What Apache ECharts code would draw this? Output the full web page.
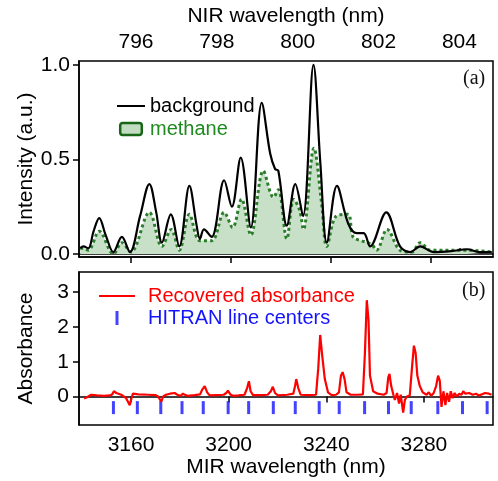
<!DOCTYPE html>
<html lang="en">
<head>
    <meta charset="UTF-8">
    <title>NIR / MIR spectra</title>
    <script src="https://cdn.jsdelivr.net/npm/echarts@6/dist/echarts.min.js"></script>
    <style>
        html, body { margin: 0; padding: 0; background: #fff; }
        #chart { width: 498px; height: 481px; }
    </style>
</head>
<body>
    <div id="chart"></div>
    <script>
        // panel (a): NIR spectra
        const bgNm = [794.62, 794.70, 794.82, 794.95, 795.09, 795.25, 795.44, 795.65, 795.85, 796.10, 796.33, 796.50, 796.64,
            796.86, 797.07, 797.32, 797.50, 797.58, 797.68, 797.87, 798.18, 798.37, 798.59, 798.84, 799.11, 799.32, 799.44,
            799.52, 799.73, 799.94, 800.13, 800.39, 800.56, 800.72, 800.97, 801.25, 801.46, 801.63, 801.79, 802.19, 802.53,
            802.78, 803.03, 803.36, 803.80, 804.19, 804.50, 804.80];
        const bgVal = [0.03, 0.04, 0.03, 0.12, 0.19, 0.10, 0.01, 0.09, 0.01, 0.20, 0.37, 0.22, 0.06,
            0.21, 0.04, 0.36, 0.15, 0.08, 0.13, 0.09, 0.39, 0.25, 0.51, 0.14, 0.80, 0.53, 0.45,
            0.44, 0.15, 0.37, 0.20, 1.00, 0.48, 0.06, 0.36, 0.16, 0.11, 0.11, 0.04, 0.22, 0.04,
            0.01, 0.04, 0.01, 0.015, 0.025, 0.01, 0.01];

        const ch4Nm = [794.62, 794.70, 794.82, 795.09, 795.44, 795.65, 795.87, 796.33, 796.64, 796.87, 797.07, 797.32, 797.58,
            797.87, 798.18, 798.39, 798.61, 798.84, 799.15, 799.40, 799.52, 799.73, 799.90, 800.05, 800.14, 800.40, 800.59,
            800.72, 800.95, 801.24, 801.37, 801.58, 801.83, 801.95, 802.21, 802.53, 802.82, 803.03, 803.28, 804.19, 804.80];
        const ch4Val = [0.03, 0.03, 0.02, 0.12, 0.00, 0.06, 0.01, 0.22, 0.04, 0.13, 0.02, 0.21, 0.07,
            0.07, 0.22, 0.14, 0.29, 0.10, 0.44, 0.30, 0.34, 0.08, 0.29, 0.23, 0.13, 0.56, 0.27,
            0.04, 0.20, 0.21, 0.09, 0.07, 0.05, 0.02, 0.13, 0.02, 0.01, 0.06, 0.02, 0.02, 0.01];

        // panel (b): MIR absorbance
        const absNm = [3140.8, 3142.0, 3143.7, 3146.0, 3149.0, 3151.3, 3152.3, 3153.0, 3154.0, 3156.0, 3158.0, 3159.5, 3160.2,
            3160.8, 3163.0, 3167.0, 3170.0, 3171.1, 3172.4, 3173.2, 3174.3, 3176.0, 3177.9, 3179.2, 3180.3, 3181.3, 3182.3,
            3183.3, 3186.0, 3188.3, 3189.2, 3190.2, 3191.2, 3192.2, 3195.0, 3198.0, 3199.0, 3199.7, 3200.7, 3201.8, 3204.0,
            3206.5, 3207.6, 3208.3, 3209.0, 3210.0, 3213.0, 3216.0, 3217.3, 3218.1, 3219.0, 3220.2, 3224.0, 3226.5, 3227.2,
            3227.7, 3228.5, 3229.5, 3233.0, 3235.8, 3236.7, 3237.5, 3238.3, 3239.4, 3240.7, 3242.2, 3244.0, 3245.2, 3246.0,
            3246.7, 3247.5, 3248.3, 3250.0, 3253.0, 3255.0, 3255.8, 3256.6, 3257.3, 3257.9, 3259.2, 3261.0, 3263.5, 3264.7,
            3265.4, 3265.9, 3266.6, 3267.5, 3268.1, 3269.0, 3269.8, 3270.5, 3271.5, 3272.2, 3273.0, 3274.2, 3275.2, 3275.9,
            3276.6, 3277.3, 3278.3, 3279.5, 3281.1, 3282.0, 3283.0, 3284.0, 3285.0, 3285.8, 3286.5, 3287.2, 3288.0, 3288.8,
            3289.5, 3290.3, 3291.0, 3291.8, 3292.6, 3293.5, 3294.5, 3295.4, 3296.1, 3297.0, 3298.5, 3300.0, 3301.3, 3302.5,
            3303.7, 3305.0, 3305.7, 3306.6, 3307.7];
        const absVal = [-0.06, -0.02, 0.05, 0.03, 0.02, 0.03, 0.06, 0.15, 0.10, 0.05, -0.05, -0.25, -0.05,
            0.08, 0.06, 0.05, 0.04, 0.00, -0.15, 0.00, 0.05, 0.08, 0.10, 0.04, 0.02, 0.08, 0.04,
            0.02, 0.04, 0.06, 0.20, 0.30, 0.12, 0.03, 0.04, 0.05, 0.10, 0.17, 0.06, 0.02, 0.03,
            0.05, 0.25, 0.44, 0.15, 0.04, 0.04, 0.05, 0.15, 0.28, 0.10, 0.03, 0.05, 0.08, 0.30,
            0.50, 0.25, 0.05, 0.04, 0.05, 0.80, 1.77, 1.20, 0.50, 0.12, 0.04, 0.05, 0.12, 0.60,
            0.70, 0.50, 0.12, 0.05, 0.05, 0.06, 1.20, 2.77, 2.20, 0.60, 0.15, 0.08, 0.05, 0.10,
            0.55, 0.65, 0.30, 0.05, -0.10, 0.10, -0.20, 0.05, -0.46, -0.10, 0.00, 0.03, 0.90, 1.46,
            1.25, 0.60, 0.30, 0.12, 0.05, 0.12, 0.02, 0.10, 0.30, 0.60, 0.45, -0.30, 0.15, -0.25,
            0.10, -0.15, 0.15, -0.05, 0.10, 0.00, 0.08, 0.05, 0.15, 0.08, 0.10, 0.05, 0.08, 0.03,
            0.06, 0.10, 0.15, 0.08, 0.05];

        const hitranNm = [3152.8, 3162.6, 3172.2, 3180.9, 3189.6, 3199.8, 3208.2, 3218.3, 3227.3, 3237.1, 3245.3,
            3255.7, 3265.5, 3274.8, 3285.7, 3295.8, 3305.9];
        const hitranMark = -0.32;

        const nirTicks = [796, 798, 800, 802, 804];
        const mirTicks = [3160, 3200, 3240, 3280];
        const intensityTicks = [0, 0.5, 1];
        const absTicks = [0, 1, 2, 3];

        const pairs = (xs, ys) => xs.map((x, i) => [x, ys[i]]);

        const font = 'Liberation Sans';
        const axisLine = { show: true, lineStyle: { color: '#000', width: 1.5 } };
        const tick = vals => ({ customValues: vals, length: 6, lineStyle: { color: '#000', width: 1.5 } });
        const nameStyle = { fontSize: 21, color: '#000', fontFamily: font };

        let myChart = echarts.init(document.getElementById('chart'));

        let option = {
            animation: false,
            backgroundColor: '#fff',
            textStyle: { fontFamily: font },
            grid: [
                { left: 79, right: 5, top: 61, height: 196, show: true, borderColor: '#000', borderWidth: 1.5 },
                { left: 79, right: 5, top: 272, height: 153, show: true, borderColor: '#000', borderWidth: 1.5 }
            ],
            xAxis: [{
                gridIndex: 0, type: 'value', position: 'top', min: 794.59, max: 804.83,
                name: 'NIR wavelength (nm)', nameLocation: 'middle', nameGap: 34, nameTextStyle: nameStyle,
                nameMoveOverlap: false,
                axisLine: axisLine,
                axisTick: tick(nirTicks),
                axisLabel: { customValues: nirTicks, fontSize: 21, color: '#000', margin: 8, fontFamily: font, formatter: v => String(v) },
                splitLine: { show: false }
            }, {
                // MIR ticks at the bottom of panel (a)
                gridIndex: 0, type: 'value', position: 'bottom', min: 3139.2, max: 3305,
                axisLine: axisLine,
                axisTick: tick(mirTicks),
                axisLabel: { show: false },
                splitLine: { show: false }
            }, {
                gridIndex: 1, type: 'value', position: 'bottom', min: 3138.7, max: 3308.3,
                name: 'MIR wavelength (nm)', nameLocation: 'middle', nameGap: 32, nameTextStyle: nameStyle,
                nameMoveOverlap: false,
                axisLine: axisLine,
                axisTick: tick(mirTicks),
                axisLabel: { customValues: mirTicks, fontSize: 21, color: '#000', margin: 10, fontFamily: font, formatter: v => String(v) },
                splitLine: { show: false }
            }],
            yAxis: [{
                gridIndex: 0, type: 'value', min: -0.016, max: 1.021,
                name: 'Intensity (a.u.)', nameLocation: 'middle', nameGap: 42, nameTextStyle: nameStyle,
                nameMoveOverlap: false,
                axisLine: axisLine,
                axisTick: tick(intensityTicks),
                axisLabel: {
                    customValues: intensityTicks, fontSize: 21, color: '#000', margin: 9, fontFamily: font,
                    formatter: v => v.toFixed(1)
                },
                splitLine: { show: false }
            }, {
                gridIndex: 1, type: 'value', min: -0.82, max: 3.58,
                name: 'Absorbance', nameLocation: 'middle', nameGap: 42, nameTextStyle: nameStyle,
                nameMoveOverlap: false,
                axisLine: axisLine,
                axisTick: tick(absTicks),
                axisLabel: { customValues: absTicks, fontSize: 21, color: '#000', margin: 10, fontFamily: font },
                splitLine: { show: false }
            }],
            legend: [{
                left: 112, top: 91, orient: 'vertical', itemWidth: 28, itemHeight: 12, itemGap: 3,
                textStyle: { fontSize: 20, fontFamily: font },
                data: [
                    {
                        name: 'background', textStyle: { color: '#000' },
                        icon: 'path://M0,0 h28 v2 h-28 z', itemStyle: { color: '#000' }
                    },
                    {
                        name: 'methane', textStyle: { color: '#1f8a1f' },
                        icon: 'path://M2,0 h14 a2,2 0 0 1 2,2 v6 a2,2 0 0 1 -2,2 h-14 a2,2 0 0 1 -2,-2 v-6 a2,2 0 0 1 2,-2 z',
                        itemStyle: { color: '#c2dcc2', borderColor: '#176617', borderWidth: 2.5 }
                    }
                ]
            }, {
                left: 94, top: 281, orient: 'vertical', itemWidth: 36, itemHeight: 14, itemGap: 2,
                textStyle: { fontSize: 20, fontFamily: font, padding: [0, 0, 0, 8] },
                data: [
                    {
                        name: 'Recovered absorbance', textStyle: { color: '#ff0000' },
                        icon: 'path://M0,0 h36 v2 h-36 z', itemStyle: { color: '#ff0000' }
                    },
                    {
                        name: 'HITRAN line centers', textStyle: { color: '#1414ff' },
                        icon: 'path://M0,0 h3 v14 h-3 z', itemStyle: { color: '#1414ff' }
                    }
                ]
            }],
            graphic: [
                { type: 'text', left: 463, top: 69, style: { text: '(a)', font: '20px "Liberation Serif"', fill: '#111' } },
                { type: 'text', left: 462, top: 281, style: { text: '(b)', font: '20px "Liberation Serif"', fill: '#111' } }
            ],
            series: [{
                name: 'methane',
                type: 'line',
                xAxisIndex: 0, yAxisIndex: 0,
                data: pairs(ch4Nm, ch4Val),
                symbol: 'none',
                smooth: 0.35,
                lineStyle: { color: '#2a7d2a', width: 3, type: 'dotted' },
                itemStyle: { color: '#2a7d2a' },
                areaStyle: { color: '#c8e0c8', opacity: 1 },
                z: 2
            }, {
                name: 'background',
                type: 'line',
                xAxisIndex: 0, yAxisIndex: 0,
                data: pairs(bgNm, bgVal),
                symbol: 'none',
                smooth: 0.35,
                lineStyle: { color: '#000', width: 2.2 },
                itemStyle: { color: '#000' },
                z: 3
            }, {
                name: 'Recovered absorbance',
                type: 'line',
                xAxisIndex: 2, yAxisIndex: 1,
                data: pairs(absNm, absVal),
                symbol: 'none',
                lineStyle: { color: '#ff0000', width: 2.2 },
                itemStyle: { color: '#ff0000' },
                z: 3
            }, {
                name: 'HITRAN line centers',
                type: 'scatter',
                xAxisIndex: 2, yAxisIndex: 1,
                data: hitranNm.map(x => [x, hitranMark]),
                symbol: 'rect',
                symbolSize: [3, 13],
                itemStyle: { color: '#1414ff' },
                z: 2
            }]
        };

        myChart.setOption(option);
    </script>
</body>
</html>
